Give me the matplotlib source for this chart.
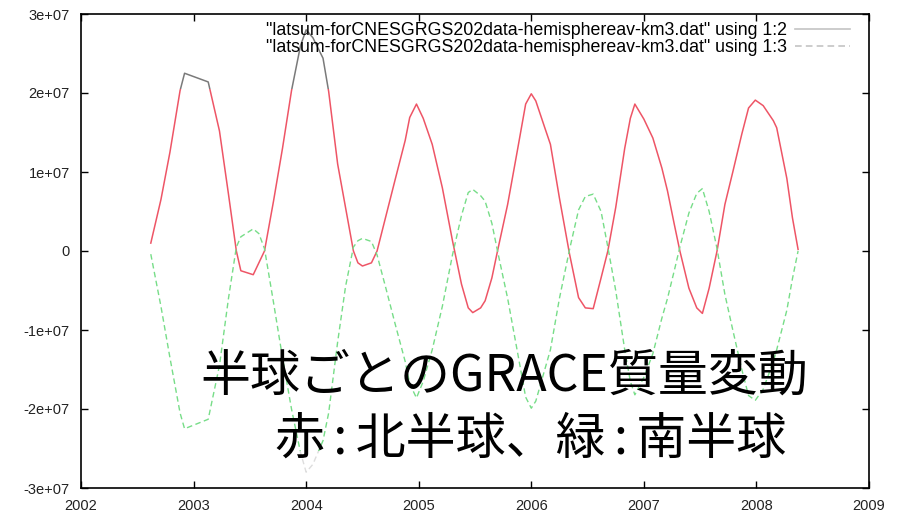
import numpy as np
import matplotlib.pyplot as plt
from matplotlib.lines import Line2D
from matplotlib.patches import Rectangle

# hemisphere mass sums (units of 1e6 km3), north = column 2, south = column 3
years = [2002.62, 2002.71, 2002.79, 2002.88, 2002.92, 2003.13, 2003.23, 2003.31,
         2003.38, 2003.42, 2003.53, 2003.58, 2003.63, 2003.71, 2003.79, 2003.87,
         2003.95, 2004.00, 2004.06, 2004.15, 2004.20, 2004.28, 2004.35, 2004.42,
         2004.46, 2004.50, 2004.58, 2004.63, 2004.71, 2004.79, 2004.88, 2004.92,
         2004.98, 2005.04, 2005.12, 2005.21, 2005.30, 2005.38, 2005.44, 2005.48,
         2005.55, 2005.59, 2005.65, 2005.70, 2005.79, 2005.88, 2005.95, 2006.00,
         2006.04, 2006.12, 2006.17, 2006.25, 2006.34, 2006.42, 2006.48, 2006.55,
         2006.62, 2006.68, 2006.75, 2006.83, 2006.88, 2006.92, 2007.00, 2007.08,
         2007.16, 2007.21, 2007.27, 2007.32, 2007.40, 2007.47, 2007.52, 2007.58,
         2007.65, 2007.72, 2007.79, 2007.87, 2007.93, 2007.99, 2008.06, 2008.15,
         2008.18, 2008.27, 2008.32, 2008.37]

north = [1.0, 6.5, 12.5, 20.3, 22.5, 21.4, 15.2, 7.2,
         0.0, -2.5, -3.0, -1.5, 0.0, 6.3, 13.0, 20.3,
         26.0, 28.0, 27.0, 24.4, 20.2, 11.0, 5.5, 0.0,
         -1.5, -1.9, -1.5, 0.0, 4.5, 9.0, 14.0, 16.9,
         18.6, 16.8, 13.5, 8.0, 1.3, -4.2, -7.2, -7.8,
         -7.2, -6.3, -3.4, 0.0, 5.9, 13.0, 18.6, 19.9,
         19.0, 15.6, 13.5, 6.7, -0.4, -5.9, -7.2, -7.3,
         -3.4, 0.0, 5.5, 13.0, 16.8, 18.6, 16.7, 14.3,
         10.5, 7.6, 3.4, 0.0, -4.7, -7.2, -7.9, -4.7,
         0.0, 5.9, 10.0, 14.8, 18.1, 19.1, 18.4, 16.5,
         15.6, 9.2, 4.2, 0.2]

south = [-0.4, -7.0, -13.5, -20.5, -22.5, -21.3, -14.5, -6.0,
         0.5, 1.8, 2.8, 2.2, 0.3, -6.5, -13.5, -20.0,
         -25.5, -28.0, -27.0, -24.0, -20.5, -11.5, -4.5, 0.5,
         1.3, 1.6, 1.2, -0.5, -4.8, -9.2, -14.0, -16.8,
         -18.6, -16.5, -12.5, -7.0, -0.5, 4.5, 7.4, 7.8,
         7.0, 6.3, 3.5, 0.0, -6.0, -13.0, -18.5, -19.9,
         -19.0, -15.0, -12.5, -6.0, 0.2, 5.2, 6.9, 7.2,
         5.0, 0.5, -5.0, -12.5, -16.5, -18.2, -16.0, -13.0,
         -8.5, -6.0, -2.5, 0.5, 4.8, 7.3, 7.9, 5.0,
         0.3, -5.5, -10.0, -15.0, -18.3, -18.9, -17.5, -14.0,
         -12.5, -7.5, -3.5, 0.0]

x_ticks = [2002, 2003, 2004, 2005, 2006, 2007, 2008, 2009]
y_ticks = [3e7, 2e7, 1e7, 0, -1e7, -2e7, -3e7]
y_labels = ['3e+07', '2e+07', '1e+07', '0', '-1e+07', '-2e+07', '-3e+07']
legend_labels = ['"latsum-forCNESGRGS202data-hemisphereav-km3.dat" using 1:2',
                 '"latsum-forCNESGRGS202data-hemisphereav-km3.dat" using 1:3']
title_lines = ['半球ごとのGRACE質量変動', '赤\u2006:\u2006北半球、緑\u2006:\u2006南半球']

t = np.array(years)
n = np.array(north) * 1e6
s = np.array(south) * 1e6

fig = plt.figure(figsize=(9.06, 5.16), dpi=100)
ax = fig.add_axes([81 / 906, 28 / 516, 788 / 906, 474 / 516])

# colour band: top strip and bottom strip of the plot come out grey
mid = Rectangle((2002, -2.53e7), 7, 2.53e7 + 2.05e7, transform=ax.transData)
top = Rectangle((2002, 2.05e7), 7, 2e7, transform=ax.transData)
low = Rectangle((2002, -4e7), 7, 4e7 - 2.53e7, transform=ax.transData)

l1, = ax.plot(t, n, color='#ee5566', lw=1.1)
l1.set_clip_path(mid)
l1g, = ax.plot(t, n, color='#7a7a7a', lw=1.1)
l1g.set_clip_path(top)

l2, = ax.plot(t, s, color='#77dd88', lw=1.0, dashes=(4, 2.5))
l2.set_clip_path(mid)
l2g, = ax.plot(t, s, color='#aaaaaa', lw=1.0, dashes=(4, 2.5))
l2g.set_clip_path(top)
l2l, = ax.plot(t, s, color='#dddddd', lw=1.0, dashes=(4, 2.5))
l2l.set_clip_path(low)

ax.set_xlim(2002, 2009)
ax.set_ylim(-3e7, 3e7)
ax.set_xticks(x_ticks)
ax.set_xticklabels([str(v) for v in x_ticks])
ax.set_yticks(y_ticks)
ax.set_yticklabels(y_labels)
ax.tick_params(direction='in', length=5, width=1, top=True, right=True,
               labelsize=10.5, labelcolor='#222222', pad=8)
for lab in ax.get_xticklabels() + ax.get_yticklabels():
    lab.set_family('Liberation Sans')
for sp in ax.spines.values():
    sp.set_linewidth(1.2)

# gnuplot style key: text first, sample line after it
handles = [Line2D([], [], color='#c4c4c4', lw=1.2),
           Line2D([], [], color='#c4c4c4', lw=1.2, dashes=(4, 2.5))]
ax.legend(handles, legend_labels, loc='upper right', markerfirst=False,
          frameon=False, bbox_to_anchor=(850 / 906, 1 - 22 / 516),
          bbox_transform=fig.transFigure, borderpad=0, borderaxespad=0,
          handlelength=3.1, handletextpad=0.45, labelspacing=0.0,
          prop={'family': 'Liberation Sans', 'size': 12.8})

cjk = ['Noto Sans CJK JP', 'DejaVu Sans']
fig.text(200 / 906, 1 - 377 / 516, title_lines[0], family=cjk, fontsize=36,
         ha='left', va='center', color='black')
fig.text(275 / 906, 1 - 440 / 516, title_lines[1], family=cjk, fontsize=36,
         ha='left', va='center', color='black')

fig.savefig('out.png', dpi=100)
